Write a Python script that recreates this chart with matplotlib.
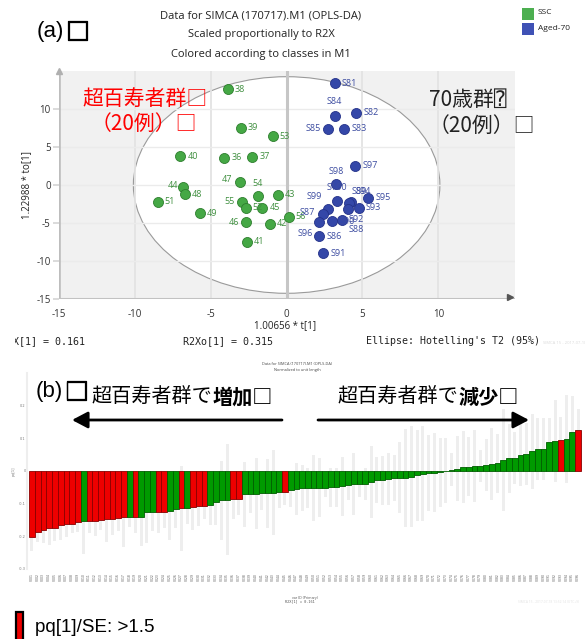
import numpy as np
import matplotlib
matplotlib.use("Agg")
import matplotlib.pyplot as plt
import matplotlib.patheffects as pe
from matplotlib.patches import Ellipse, Rectangle, FancyArrowPatch
from matplotlib.transforms import Bbox

plt.rcParams['axes.unicode_minus'] = False

# ---- score plot data (OPLS-DA, t[1] vs to[1]) ----
ssc_names = ['38', '39', '53', '40', '36', '37', '47', '54', '44', '48',
             '43', '51', '55', '52', '45', '49', '46', '42', '56', '41']
ssc_t = [-3.88, -3.03, -0.92, -7.0, -4.1, -2.25, -3.1, -1.9, -6.84, -6.7,
         -0.6, -8.5, -2.94, -2.7, -1.6, -5.7, -2.7, -1.1, 0.15, -2.6]
ssc_to = [12.6, 7.5, 6.4, 3.8, 3.6, 3.7, 0.4, -1.45, -0.3, -1.2,
          -1.3, -2.2, -2.2, -3.0, -3.0, -3.7, -4.9, -5.1, -4.2, -7.5]

aged_names = ['S81', 'S84', 'S82', 'S85', 'S83', 'S97', 'S98', 'S100', 'S95', 'S94',
              'S89', 'S93', 'S88', 'S99', 'S87', 'S96', 'S90', 'S92', 'S86', 'S91']
aged_t = [3.16, 3.16, 4.6, 2.7, 3.8, 4.52, 3.27, 3.33, 5.39, 4.25,
          4.1, 4.76, 4.06, 2.74, 2.41, 2.13, 3.0, 3.62, 2.15, 2.43]
aged_to = [13.4, 9.1, 9.5, 7.4, 7.4, 2.5, 0.09, -2.1, -1.7, -2.3,
           -2.4, -3.0, -3.1, -3.1, -3.8, -4.87, -4.8, -4.56, -6.75, -8.95]

# ---- loading column plot data ----
pq_values = [-0.201, -0.187, -0.180, -0.175, -0.174, -0.166, -0.162, -0.161, -0.156, -0.154,
             -0.154, -0.153, -0.151, -0.147, -0.147, -0.143, -0.142, -0.140, -0.140, -0.140,
             -0.125, -0.125, -0.125, -0.124, -0.122, -0.116, -0.114, -0.112, -0.110, -0.108,
             -0.108, -0.105, -0.095, -0.090, -0.088, -0.087, -0.085, -0.071, -0.070, -0.069,
             -0.068, -0.068, -0.066, -0.063, -0.063, -0.059, -0.056, -0.052, -0.052, -0.052,
             -0.051, -0.051, -0.050, -0.050, -0.047, -0.044, -0.040, -0.040, -0.040, -0.033,
             -0.028, -0.028, -0.025, -0.021, -0.020, -0.020, -0.017, -0.013, -0.008, -0.006,
             -0.005, -0.004, 0.001, 0.004, 0.007, 0.012, 0.013, 0.015, 0.015, 0.019,
             0.022, 0.024, 0.034, 0.039, 0.039, 0.049, 0.051, 0.060, 0.066, 0.068,
             0.088, 0.092, 0.095, 0.098, 0.119, 0.126]
pq_ci = [0.045, 0.03, 0.04, 0.05, 0.04, 0.045, 0.04, 0.03, 0.03, 0.10,
         0.035, 0.045, 0.03, 0.07, 0.05, 0.04, 0.09, 0.03, 0.05, 0.09,
         0.095, 0.06, 0.065, 0.05, 0.09, 0.06, 0.13, 0.05, 0.07, 0.06,
         0.04, 0.06, 0.07, 0.12, 0.17, 0.06, 0.05, 0.10, 0.06, 0.11,
         0.05, 0.105, 0.13, 0.05, 0.04, 0.05, 0.08, 0.07, 0.06, 0.10,
         0.09, 0.03, 0.06, 0.06, 0.09, 0.045, 0.095, 0.04, 0.05, 0.11,
         0.07, 0.075, 0.08, 0.07, 0.11, 0.15, 0.155, 0.14, 0.145, 0.115,
         0.12, 0.105, 0.10, 0.05, 0.10, 0.11, 0.09, 0.11, 0.05, 0.08,
         0.11, 0.09, 0.155, 0.105, 0.08, 0.095, 0.095, 0.115, 0.095, 0.095,
         0.075, 0.125, 0.07, 0.135, 0.11, 0.065]
# 1 = |pq[1]/SE| > 1.5
pq_signif = [1, 1, 1, 1, 1, 1, 1, 1, 1, 0,
             1, 1, 1, 1, 1, 1, 1, 0, 1, 0,
             0, 0, 1, 1, 0, 0, 1, 0, 1, 1,
             1, 0, 0, 0, 0, 1, 1, 0, 0, 0,
             0, 0, 0, 0, 1, 0, 0, 0, 0, 0,
             0, 0, 0, 0, 0, 0, 0, 0, 0, 0,
             0, 0, 0, 0, 0, 0, 0, 0, 0, 0,
             0, 0, 0, 0, 0, 0, 0, 0, 0, 0,
             0, 0, 0, 0, 0, 0, 0, 0, 0, 0,
             0, 0, 1, 0, 0, 1]
var_ids = ['V%03d' % (i + 1) for i in range(len(pq_values))]

W, H = 585, 639
fig = plt.figure(figsize=(W / 100, H / 100), dpi=100)


def fx(px):
    return px / W


def fy(py):
    return 1 - py / H


sans = 'Open Sans'
jp = ['Noto Sans CJK JP', 'DejaVu Sans', 'DejaVu Sans Mono']
arial = ['Liberation Sans', 'DejaVu Sans']
mono = 'DejaVu Sans Mono'

# ================= (a) score scatter =================
ax = fig.add_axes([fx(59), fy(299), (515 - 59) / W, (299 - 71) / H])
ax.set_facecolor('#f1f1f1')
ax.set_xlim(-15, 15.05)
ax.set_ylim(-15, 15)
for s in ax.spines.values():
    s.set_visible(False)

ax.add_patch(Ellipse((0, 0), 20.2, 28.5, facecolor='white', edgecolor='#9a9a9a', lw=0.8, zorder=1))
for gx in [-10, -5, 5, 10]:
    ax.axvline(gx, color='#e3e3e3', lw=1.3, zorder=1.5)
for gy in [-10, -5, 0, 5, 10]:
    ax.axhline(gy, color='#ebebeb', lw=1.0, zorder=1.5)
ax.axvline(0, color='#c6c6c6', lw=2.2, zorder=1.6)
ax.axvline(-15, color='#bdbdbd', lw=2.6, zorder=1.6)
ax.axhline(-15, color='#c2c2c2', lw=2.2, zorder=1.6)
ax.plot([-15], [15], marker='^', ms=5, color='#b0b0b0', clip_on=False, zorder=3)
ax.plot([14.7], [-14.8], marker='>', ms=5, color='#555555', clip_on=False, zorder=3)

ax.set_xticks([-15, -10, -5, 0, 5, 10])
ax.set_xticklabels(['-15', '-10', '-5', '0', '5', '10'])
ax.set_yticks([-15, -10, -5, 0, 5, 10])
ax.set_yticklabels(['-15', '-10', '-5', '0', '5', '10'])
ax.tick_params(axis='x', length=0, pad=7, labelsize=7, labelcolor='#333333')
ax.tick_params(axis='y', length=4, width=1.2, color='#d4d4d4', pad=2, labelsize=7, labelcolor='#333333')
for lab in ax.get_xticklabels() + ax.get_yticklabels():
    lab.set_fontfamily(sans)

green, green_edge, green_txt = '#45a845', '#2e7e2e', '#3f8f3f'
blue, blue_edge, blue_txt = '#3447a8', '#25338a', '#3b4ba0'

ax.scatter(ssc_t, ssc_to, s=52, color=green, edgecolors=green_edge, linewidths=0.6, zorder=4)
ax.scatter(aged_t, aged_to, s=52, color=blue, edgecolors=blue_edge, linewidths=0.6, zorder=4)

# label placement in pixels: (dx, dy, ha)
ssc_off = {'44': (-5, 2, 'right'), '47': (-7, 2, 'right'), '54': (0, 13, 'center'),
           '55': (-7, 0, 'right'), '46': (-7, 0, 'right'), '56': (7, 0, 'left')}
aged_off = {'S84': (0, 14, 'center'), 'S85': (-7, 0, 'right'), 'S98': (0, 13, 'center'),
            'S100': (0, 13, 'center'), 'S94': (4, 11, 'left'), 'S89': (3, 12, 'left'),
            'S88': (0, -21, 'left'), 'S99': (-6, 12, 'right'), 'S87': (-8, 1, 'right'),
            'S96': (-6, -11, 'right')}

for name, x, y in zip(ssc_names, ssc_t, ssc_to):
    dx, dy, ha = ssc_off.get(name, (7, 0, 'left'))
    ax.annotate(name, (x, y), xytext=(dx * 0.72, dy * 0.72), textcoords='offset points',
                ha=ha, va='center', fontsize=6.5, color=green_txt, family=sans, zorder=5)
for name, x, y in zip(aged_names, aged_t, aged_to):
    dx, dy, ha = aged_off.get(name, (7, 0, 'left'))
    ax.annotate(name, (x, y), xytext=(dx * 0.72, dy * 0.72), textcoords='offset points',
                ha=ha, va='center', fontsize=6.5, color=blue_txt, family=sans, zorder=5)

fig.text(fx(285), fy(326), '1.00656 * t[1]', ha='center', va='center', fontsize=7, family=sans, color='#222222')
fig.text(fx(27), fy(185), '1.22988 * to[1]', ha='center', va='center', rotation=90, fontsize=7,
         family=sans, color='#222222')

# titles
for txt, py in [('Data for SIMCA (170717).M1 (OPLS-DA)', 16),
                ('Scaled proportionally to R2X', 35),
                ('Colored according to classes in M1', 54)]:
    fig.text(fx(261), fy(py), txt, ha='center', va='center', fontsize=8, family=sans, color='#222222')

# class legend
fig.patches.append(Rectangle((fx(522), fy(20)), 12 / W, 12 / H, transform=fig.transFigure,
                             facecolor='#4caf50', edgecolor='none'))
fig.patches.append(Rectangle((fx(522), fy(35)), 12 / W, 12 / H, transform=fig.transFigure,
                             facecolor='#3f51b5', edgecolor='none'))
fig.text(fx(538), fy(13), 'SSC', ha='left', va='center', fontsize=6, family=sans, color='#222222')
fig.text(fx(538), fy(28), 'Aged-70', ha='left', va='center', fontsize=6, family=sans, color='#222222')

renderer = fig.canvas.get_renderer()


def panel_tag(tag, left, py):
    t = fig.text(fx(left), fy(py), tag, ha='left', va='center', fontsize=16, family=arial)
    ext = t.get_window_extent(renderer)
    fig.text((ext.x1 + 1) / W, fy(py + 1), '□', ha='left', va='center', fontsize=17, family=jp,
             path_effects=[pe.withStroke(linewidth=0.9, foreground='black')])


panel_tag('(a)', 37, 32)

fig.text(fx(145), fy(99), '超百寿者群□', ha='center', va='center', fontsize=15, family=jp, color='#ff0000')
fig.text(fx(144), fy(124), '（20例）□', ha='center', va='center', fontsize=15, family=jp, color='#ff0000')
fig.text(fx(429), fy(100), '70歳群⍰', ha='left', va='center', fontsize=15, family=jp, color='#222222')
fig.text(fx(429), fy(126), '（20例）□', ha='left', va='center', fontsize=15, family=jp, color='#222222')

# model summary line
r2x = fig.text(fx(1), fy(341), 'R2X[1] = 0.161', ha='left', va='center', fontsize=7.2, family=mono, color='#222222')
r2x.set_clip_box(Bbox.from_extents(15, 0, W, H))
fig.text(fx(183), fy(341), 'R2Xo[1] = 0.315', ha='left', va='center', fontsize=7.2, family=mono, color='#222222')
fig.text(fx(366), fy(341), "Ellipse: Hotelling's T2 (95%)", ha='left', va='center', fontsize=7.2,
         family=mono, color='#222222')
fig.text(fx(543), fy(343), 'SIMCA 15 - 2017-07-18', ha='left', va='center',
         fontsize=3.0, family=sans, color='#dadada')

# ================= (b) loading column plot =================
axb = fig.add_axes([fx(27), fy(569), (583 - 27) / W, (569 - 373) / H])
xpos = np.arange(len(pq_values))
vals = np.array(pq_values)
ci = np.array(pq_ci)
bar_fill = ['#ee0000' if s else '#009a00' for s in pq_signif]
bar_edge = ['#8a0000' if s else '#005e00' for s in pq_signif]
axb.bar(xpos, 2 * ci, bottom=vals - ci, width=0.5, color='#eeeeee', zorder=1)
axb.bar(xpos, vals, width=1.0, color=bar_fill, edgecolor=bar_edge, linewidth=0.6, zorder=2)
axb.set_xlim(-0.85, len(pq_values) - 0.15)
axb.set_ylim(-0.3, 0.3)
for k in ['top', 'right', 'bottom']:
    axb.spines[k].set_visible(False)
axb.spines['left'].set_color('#eeeeee')
axb.spines['left'].set_linewidth(1.5)
axb.set_yticks([-0.3, -0.2, -0.1, 0, 0.1, 0.2])
axb.set_yticklabels(['-0.3', '-0.2', '-0.1', '0', '0.1', '0.2'])
axb.tick_params(axis='y', length=0, pad=1, labelsize=2.5, labelcolor='#777777')
axb.set_xticks(xpos)
axb.set_xticklabels(var_ids, rotation=90, fontsize=2.2, color='#555555')
axb.tick_params(axis='x', length=0, pad=3)
axb.set_ylabel('pq[1]', fontsize=2.5, color='#777777', labelpad=2)

fig.text(fx(297), fy(364), 'Data for SIMCA (170717).M1 (OPLS-DA)', ha='center', va='center',
         fontsize=2.8, family=sans, color='#444444')
fig.text(fx(297), fy(370), 'Normalized to unit length', ha='center', va='center',
         fontsize=2.8, family=sans, color='#444444')
fig.text(fx(305), fy(597.5), 'var ID (Primary)', ha='center', va='center', fontsize=2.6, family=sans, color='#555555')
fig.text(fx(300), fy(601.5), 'R2X[1] = 0.161', ha='center', va='center', fontsize=2.6, family=mono, color='#555555')
fig.text(fx(548), fy(602), 'SIMCA 15 - 2017-07-18 13:52:14 (UTC+9)', ha='center', va='center',
         fontsize=2.3, family=sans, color='#e2e2e2')

panel_tag('(b)', 36, 392)

for left, bold in [(92, '増加□'), (338, '減少□')]:
    t = fig.text(fx(left), fy(397), '超百寿者群で', ha='left', va='center', fontsize=14.5, family=jp)
    ext = t.get_window_extent(renderer)
    fig.text(ext.x1 / W, fy(397), bold, ha='left', va='center', fontsize=14.5, family=jp, weight='bold')

for p0, p1 in [((282, 420), (72, 420)), ((318, 420), (529, 420))]:
    fig.add_artist(FancyArrowPatch((fx(p0[0]), fy(p0[1])), (fx(p1[0]), fy(p1[1])), transform=fig.transFigure,
                                   arrowstyle='-|>,head_length=0.95,head_width=0.5', mutation_scale=10,
                                   lw=2.0, color='black', shrinkA=0, shrinkB=0))

# significance legend
fig.patches.append(Rectangle((fx(15.5), fy(645)), 7 / W, 33 / H, transform=fig.transFigure,
                             facecolor='#ee0000', edgecolor='black', lw=1.6))
fig.text(fx(35), fy(627), 'pq[1]/SE: >1.5', ha='left', va='center', fontsize=13.5, family=arial)

fig.savefig('out.png', dpi=100)
